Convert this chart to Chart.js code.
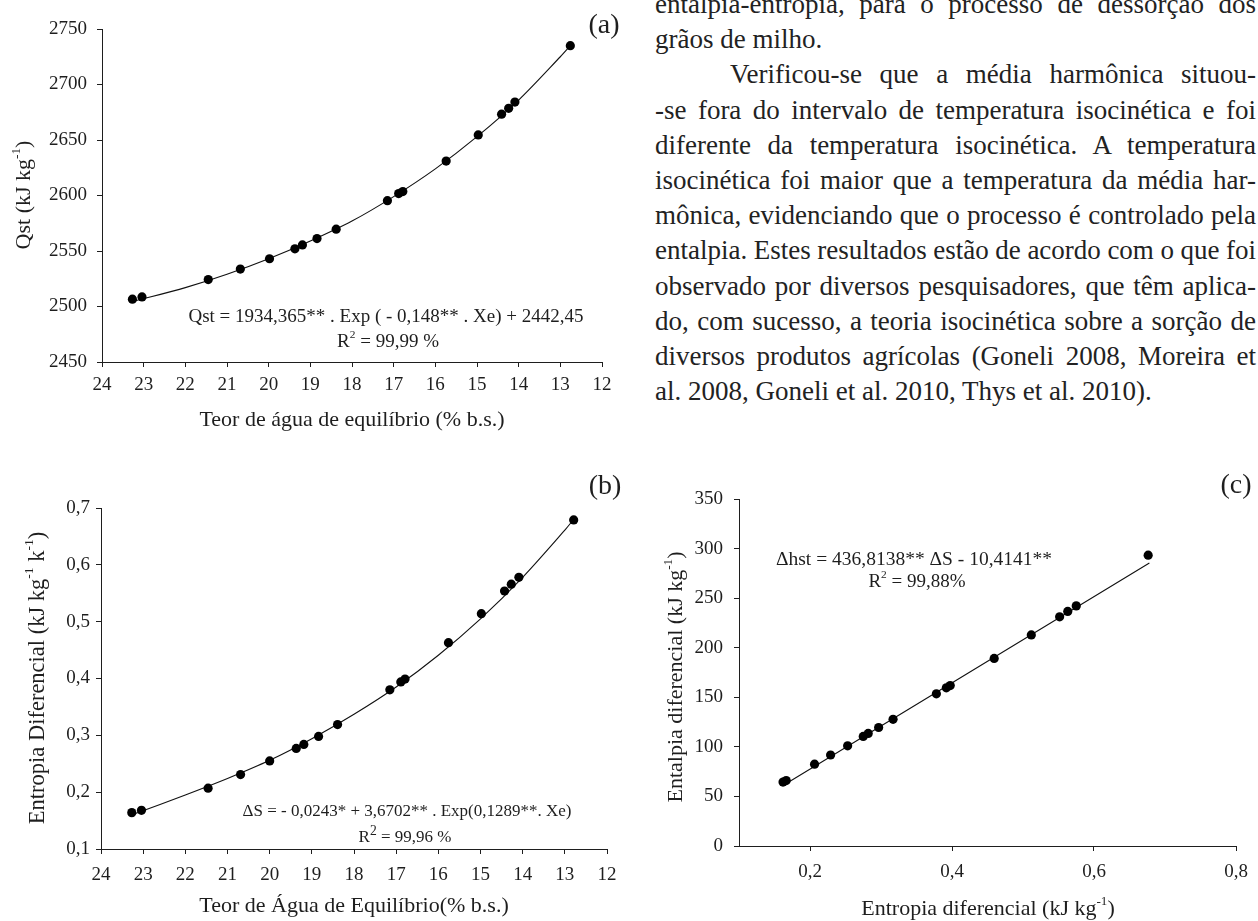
<!DOCTYPE html>
<html>
<head>
<meta charset="utf-8">
<script src="https://cdn.jsdelivr.net/npm/chart.js@4.4.0/dist/chart.umd.min.js"></script>
<style>
  body { margin: 0; background: #fff; width: 1258px; height: 921px; overflow: hidden; position: relative;
         font-family: "Liberation Serif", "Times New Roman", serif; color: #222; }
  canvas { position: absolute; }
  #texto { position: absolute; left: 655px; top: -13px; width: 601px; font-size: 27px; line-height: 35.2px; }
  #texto div { height: 35.2px; white-space: nowrap; }
</style>
</head>
<body>
<canvas id="ca" width="640" height="440" style="left:0;top:0"></canvas>
<canvas id="cb" width="640" height="461" style="left:0;top:460px"></canvas>
<canvas id="cc" width="618" height="461" style="left:640px;top:460px"></canvas>
<div id="texto"></div>
<script>
// (a) calor isostérico x teor de água
const xeA = [23.27, 23.04, 21.45, 20.68, 19.98, 19.37, 19.19, 18.84, 18.38, 17.15, 16.88, 16.78, 15.74, 14.97, 14.41, 14.24, 14.09, 12.76];
const qstA = [2506.6, 2508.6, 2524.3, 2533.7, 2543, 2552, 2555.5, 2561.2, 2569.7, 2595.3, 2601.7, 2603.5, 2631, 2654.6, 2673.3, 2678.5, 2684.2, 2735];
const fitXA = [23.2, 22, 21, 20, 19, 18, 17, 16, 15, 14, 13, 12.76];
const fitYA = [2505, 2517, 2529, 2543, 2559, 2577, 2599, 2624, 2653, 2686, 2725, 2735];
const ticksXA = [24, 23, 22, 21, 20, 19, 18, 17, 16, 15, 14, 13, 12];
const ticksYA = [2450, 2500, 2550, 2600, 2650, 2700, 2750];

// (b) entropia diferencial x teor de água
const xeB = [23.27, 23.04, 21.46, 20.69, 20.0, 19.37, 19.19, 18.84, 18.39, 17.15, 16.89, 16.79, 15.76, 14.98, 14.43, 14.27, 14.09, 12.79];
const sB = [0.164, 0.168, 0.207, 0.231, 0.255, 0.277, 0.284, 0.298, 0.319, 0.380, 0.394, 0.399, 0.463, 0.514, 0.554, 0.566, 0.578, 0.679];
const fitXB = [23.2, 22, 21, 20, 19, 18, 17, 16, 15, 14, 13, 12.79];
const fitYB = [0.162, 0.195, 0.224, 0.256, 0.294, 0.337, 0.385, 0.441, 0.505, 0.578, 0.661, 0.680];
const ticksXB = [24, 23, 22, 21, 20, 19, 18, 17, 16, 15, 14, 13, 12];
const ticksYB = [0.1, 0.2, 0.3, 0.4, 0.5, 0.6, 0.7];

// (c) entalpia x entropia
const sC = [0.162, 0.1665, 0.2064, 0.229, 0.253, 0.275, 0.282, 0.2967, 0.317, 0.378, 0.392, 0.3975, 0.4594, 0.5117, 0.5516, 0.563, 0.575, 0.6763];
const hC = [64.5, 66, 82.5, 91.8, 101, 110.5, 113.5, 119.5, 127.8, 153.5, 159.5, 161.8, 189.2, 212.9, 231.2, 236.6, 242.2, 293.3];
const fitXC = [0.162, 0.678];
const fitYC = [61, 285.4];
const ticksXC = [0.2, 0.4, 0.6, 0.8];
const ticksYC = [0, 50, 100, 150, 200, 250, 300, 350];

// texto da coluna direita: [linha, justificada, recuo]
const textLines = [
  ['entalpia-entropia, para o processo de dessorção dos', true, 0],
  ['grãos de milho.', false, 0],
  ['Verificou-se que a média harmônica situou-', true, 75],
  ['-se fora do intervalo de temperatura isocinética e foi', true, 0],
  ['diferente da temperatura isocinética. A temperatura', true, 0],
  ['isocinética foi maior que a temperatura da média har-', true, 0],
  ['mônica, evidenciando que o processo é controlado pela', true, 0],
  ['entalpia. Estes resultados estão de acordo com o que foi', true, 0],
  ['observado por diversos pesquisadores, que têm aplica-', true, 0],
  ['do, com sucesso, a teoria isocinética sobre a sorção de', true, 0],
  ['diversos produtos agrícolas (Goneli 2008, Moreira et', true, 0],
  ['al. 2008, Goneli et al. 2010, Thys et al. 2010).', false, 0]
];

const box = document.getElementById('texto');
textLines.forEach(([t, just, indent]) => {
  const d = document.createElement('div');
  const s = document.createElement('span');
  s.textContent = t;
  d.appendChild(s);
  d.style.paddingLeft = indent + 'px';
  box.appendChild(d);
  if (just) {
    const natural = s.getBoundingClientRect().width;
    const gaps = (t.match(/ /g) || []).length;
    if (gaps) s.style.wordSpacing = ((601 - indent - natural) / gaps) + 'px';
  }
});

const FONT = '"Liberation Serif", "Times New Roman", serif';
const INK = '#1e1e1e';

// textos dos gráficos (com sobrescritos)
const NOTES = {
  ca: [
    { p: [['Qst (kJ kg'], ['-1', 1], [')']], x: 24, y: 195, size: 22, rot: true },
    { p: [['Teor de água de equilíbrio (% b.s.)']], x: 352, y: 420, size: 22 },
    { p: [['(a)']], x: 604, y: 26, size: 28 },
    { p: [['Qst = 1934,365** . Exp ( - 0,148** . Xe) + 2442,45']], x: 386, y: 317, size: 19 },
    { p: [['R'], ['2', 1], [' = 99,99 %']], x: 388, y: 342, size: 19 }
  ],
  cb: [
    { p: [['Entropia Diferencial (kJ kg'], ['-1', 1], [' k'], ['-1', 1], [')']], x: 38, y: 218, size: 22.5, rot: true },
    { p: [['Teor de Água de Equilíbrio(% b.s.)']], x: 354, y: 446, size: 22 },
    { p: [['(b)']], x: 605, y: 27, size: 28 },
    { p: [['ΔS = - 0,0243* + 3,6702** . Exp(0,1289**. Xe)']], x: 407, y: 352, size: 17 },
    { p: [['R'], ['2', 1], [' = 99,96 %']], x: 405, y: 378, size: 17, sup: 0.8 }
  ],
  cc: [
    { p: [['Entalpia diferencial (kJ kg'], ['-1', 1], [')']], x: 36, y: 217, size: 22, rot: true },
    { p: [['Entropia diferencial (kJ kg'], ['-1', 1], [')']], x: 348, y: 449, size: 22 },
    { p: [['(c)']], x: 596, y: 26, size: 28 },
    { p: [['Δhst = 436,8138** ΔS - 10,4141**']], x: 274, y: 100, size: 19.5 },
    { p: [['R'], ['2', 1], [' = 99,88%']], x: 277, y: 122, size: 19 }
  ]
};

function drawRich(ctx, it) {
  const supK = it.sup || 0.6;
  ctx.save();
  ctx.translate(it.x, it.y);
  if (it.rot) ctx.rotate(-Math.PI / 2);
  ctx.fillStyle = INK;
  ctx.textBaseline = 'middle';
  ctx.textAlign = 'left';
  let total = 0;
  it.p.forEach(([t, sup]) => {
    ctx.font = (sup ? it.size * supK : it.size) + 'px ' + FONT;
    total += ctx.measureText(t).width;
  });
  let cx = -total / 2;
  it.p.forEach(([t, sup]) => {
    ctx.font = (sup ? it.size * supK : it.size) + 'px ' + FONT;
    ctx.fillText(t, cx, sup ? -it.size * 0.36 : 0);
    cx += ctx.measureText(t).width;
  });
  ctx.restore();
}

const notesPlugin = {
  id: 'notes',
  afterDraw(chart) {
    (NOTES[chart.canvas.id] || []).forEach(it => drawRich(chart.ctx, it));
  }
};

function axis(min, max, ticks, fmt, size, pad, reverse) {
  return {
    type: 'linear', min: min, max: max, reverse: !!reverse,
    afterBuildTicks: s => { s.ticks = ticks.map(v => ({ value: v })); },
    afterFit: s => { if (s.isHorizontal()) s.height = size; else s.width = size; },
    ticks: { callback: fmt, padding: pad, color: INK, font: { size: 19, family: FONT }, autoSkip: false, maxRotation: 0 },
    grid: { drawOnChartArea: false, tickLength: 5, color: INK, lineWidth: 1 },
    border: { color: INK, width: 1 }
  };
}

const pts = (xs, ys) => xs.map((x, i) => ({ x: x, y: ys[i] }));
const comma = d => v => v.toFixed(d).replace('.', ',');

function makeChart(id, points, fit, scales, padding) {
  new Chart(document.getElementById(id), {
    type: 'scatter',
    data: {
      datasets: [
        { data: points, pointRadius: 4.6, pointBackgroundColor: '#000', pointBorderWidth: 0, showLine: false },
        { data: fit, showLine: true, borderColor: '#111', borderWidth: 1.1, pointRadius: 0, tension: 0.3, fill: false }
      ]
    },
    options: {
      responsive: false,
      animation: false,
      layout: { padding: padding },
      plugins: { legend: { display: false }, tooltip: { enabled: false } },
      scales: scales
    },
    plugins: [notesPlugin]
  });
}

makeChart('ca', pts(xeA, qstA), pts(fitXA, fitYA), {
  x: axis(12, 24, ticksXA, v => String(v), 78, 7, true),
  y: axis(2450, 2750, ticksYA, v => String(v), 102, 10)
}, { top: 29, right: 38, left: 0, bottom: 0 });

makeChart('cb', pts(xeB, sB), pts(fitXB, fitYB), {
  x: axis(12, 24, ticksXB, v => String(v), 72, 10, true),
  y: axis(0.1, 0.7, ticksYB, comma(1), 101, 6)
}, { top: 48, right: 33, left: 0, bottom: 0 });

makeChart('cc', pts(sC, hC), pts(fitXC, fitYC), {
  x: axis(0.1, 0.8, ticksXC, comma(1), 75, 10),
  y: axis(0, 350, ticksYC, v => String(v), 99, 11)
}, { top: 39, right: 22, left: 0, bottom: 0 });
</script>
</body>
</html>
